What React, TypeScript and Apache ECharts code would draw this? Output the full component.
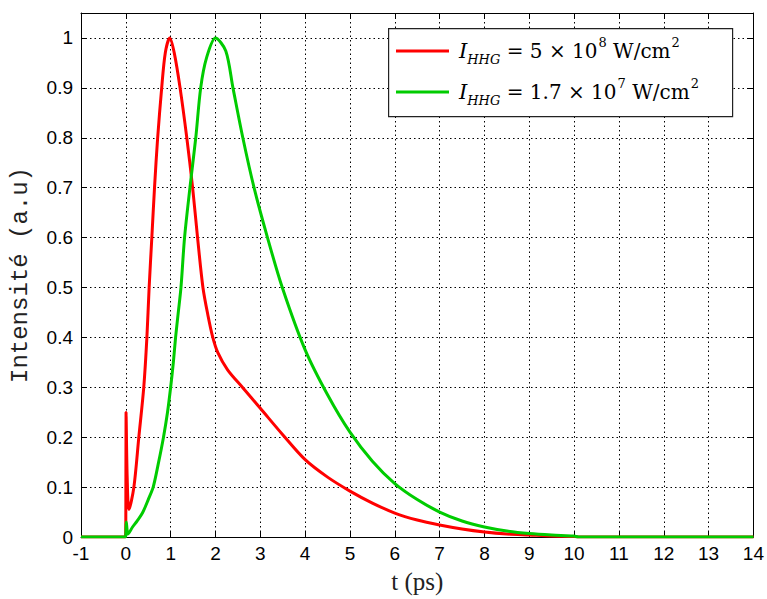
import React, { useEffect, useRef } from "react";
import * as echarts from "echarts";

// ---- data ----
const redT = [-1, -0.01, 0.0, 0.005, 0.03, 0.07, 0.18, 0.29, 0.4, 0.47, 0.52, 0.58, 0.64, 0.71, 0.8, 0.88, 0.98, 1.08, 1.21, 1.36, 1.49, 1.6, 1.72, 1.83, 1.94, 2.05, 2.27, 2.6, 3.0, 3.5, 4.0, 4.5, 5.0, 5.5, 6.0, 6.5, 7.0, 7.5, 8.0, 8.5, 9.0, 9.5, 10.0, 10.1, 14];
const redI = [0, 0, 0.05, 0.25, 0.12, 0.055, 0.1, 0.2, 0.3, 0.4, 0.5, 0.6, 0.7, 0.8, 0.9, 0.97, 1.0, 0.97, 0.9, 0.8, 0.7, 0.6, 0.5, 0.445, 0.4, 0.37, 0.335, 0.3, 0.258, 0.205, 0.155, 0.12, 0.092, 0.068, 0.048, 0.034, 0.024, 0.016, 0.01, 0.006, 0.004, 0.002, 0.001, 0, 0];

const greenT = [-1, -0.01, 0.01, 0.05, 0.15, 0.25, 0.37, 0.5, 0.61, 0.72, 0.84, 0.93, 1.0, 1.06, 1.11, 1.17, 1.23, 1.31, 1.43, 1.56, 1.67, 1.8, 2.0, 2.23, 2.39, 2.61, 2.86, 3.16, 3.49, 4.0, 4.5, 5.0, 5.5, 6.0, 6.5, 7.0, 7.5, 8.0, 8.5, 9.0, 9.5, 10.0, 10.1, 14];
const greenI = [0, 0, 0.03, 0.006, 0.02, 0.032, 0.048, 0.075, 0.1, 0.145, 0.2, 0.25, 0.3, 0.35, 0.4, 0.45, 0.5, 0.6, 0.7, 0.8, 0.9, 0.96, 1.0, 0.974, 0.9, 0.8, 0.7, 0.6, 0.5, 0.375, 0.285, 0.21, 0.152, 0.107, 0.075, 0.05, 0.032, 0.02, 0.012, 0.007, 0.004, 0.002, 0, 0];

const seriesNames = ["I_HHG = 5 × 10^8 W/cm^2", "I_HHG = 1.7 × 10^7 W/cm^2"];
const legendMantissa = ["5", "1.7"];
const legendExponent = ["8", "7"];
const xTicks = { min: -1, max: 14, interval: 1 };
const yTicks = { min: 0, max: 1.05, interval: 0.1 };
const xName = "t (ps)";
const yName = "Intensité (a.u)";

const pairs = (t: number[], v: number[]) => t.map((x, i) => [x, v[i]]);

export default function App() {
  const ref = useRef<HTMLDivElement>(null);
  useEffect(() => {
    if (!ref.current) return;
    const chart = echarts.init(ref.current, null, { renderer: "svg" });
    const tickFont = { fontFamily: "Liberation Sans", fontSize: 19, color: "#000" };
    const grid = { type: [1.5, 3] as any, color: "#000", width: 1 };
    const yFmt = (v: number) => (v > 1.001 ? "" : String(Math.round(v * 10) / 10));
    const serif = "Liberation Serif";
    const lserif = "DejaVu Serif";
    const frameLine = { show: true, onZero: false, lineStyle: { color: "#000", width: 1 } };
    const tick = { show: true, inside: true, length: 6, lineStyle: { color: "#000" } };
    chart.setOption({
      animation: false,
      backgroundColor: "#fff",
      grid: { left: 81, right: 12, top: 13, bottom: 61 },
      xAxis: [
        {
          type: "value", ...xTicks, position: "bottom",
          name: xName, nameLocation: "middle", nameGap: 32,
          nameTextStyle: { fontFamily: serif, fontSize: 25, color: "#222" },
          axisLine: frameLine, axisTick: tick,
          axisLabel: { ...tickFont, margin: 7 },
          splitLine: { show: true, lineStyle: grid },
        },
        {
          type: "value", ...xTicks, position: "top",
          axisLine: frameLine, axisTick: tick,
          axisLabel: { show: false },
          splitLine: { show: false },
        },
      ],
      yAxis: [
        {
          type: "value", ...yTicks, position: "left",
          name: yName, nameLocation: "middle", nameGap: 49, nameRotate: 90,
          nameTextStyle: { fontFamily: "Liberation Mono", fontSize: 24, color: "#222" },
          axisLine: frameLine, axisTick: tick,
          axisLabel: { ...tickFont, margin: 8, formatter: yFmt },
          splitLine: { show: true, lineStyle: grid },
        },
        {
          type: "value", ...yTicks, position: "right",
          axisLine: frameLine, axisTick: tick,
          axisLabel: { show: false },
          splitLine: { show: false },
        },
      ],
      graphic: [
        {
          type: "rect", z: 3, left: 388, top: 28,
          shape: { width: 344, height: 88 },
          style: { fill: "#fff", stroke: "#222", lineWidth: 1.2 },
        },
      ],
      legend: {
        orient: "vertical", left: 396, top: 36, padding: 0, z: 5,
        itemGap: 11, itemWidth: 53, itemHeight: 3, icon: "rect",
        data: seriesNames,
        formatter: (name: string) => {
          const k = seriesNames.indexOf(name);
          return `{i|I}{s|HHG}{t| = ${legendMantissa[k]} × 10}{p|${legendExponent[k]}}{t| W/cm}{p|2}`;
        },
        textStyle: {
          lineHeight: 30,
          rich: {
            i: { fontFamily: lserif, fontStyle: "italic", fontSize: 21, color: "#000", lineHeight: 30, padding: [0, 0, 0, 5] },
            s: { fontFamily: lserif, fontStyle: "italic", fontSize: 13, color: "#000", lineHeight: 12, verticalAlign: "bottom" },
            t: { fontFamily: lserif, fontSize: 20, color: "#000", lineHeight: 30 },
            p: { fontFamily: lserif, fontSize: 13, color: "#000", lineHeight: 12, verticalAlign: "top", padding: [0, 0, 0, 1] },
          },
        },
      },
      series: [
        {
          name: seriesNames[0], type: "line", data: pairs(redT, redI),
          showSymbol: false, symbol: "none", color: "#ff0000",
          smooth: 0.3,
          lineStyle: { color: "#ff0000", width: 3 }, z: 2,
        },
        {
          name: seriesNames[1], type: "line", data: pairs(greenT, greenI),
          showSymbol: false, symbol: "none", color: "#00cc00",
          smooth: 0.3,
          lineStyle: { color: "#00cc00", width: 3 }, z: 3,
        },
      ],
    });
    return () => chart.dispose();
  }, []);
  return <div ref={ref} style={{ position: "fixed", left: 0, top: 0, width: 767, height: 599 }} />;
}
